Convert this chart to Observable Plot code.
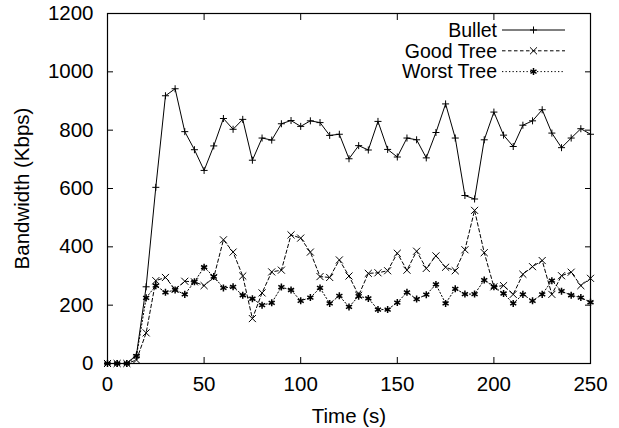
<!DOCTYPE html>
<html><head><meta charset="utf-8">
<script src="https://cdn.jsdelivr.net/npm/d3@7"></script>
<script src="https://cdn.jsdelivr.net/npm/@observablehq/plot@0.6"></script>
<style>html,body{margin:0;padding:0;background:#fff}</style>
</head><body><div id="chart"></div>
<script>
const time = [0,5,10,15,20,25,30,35,40,45,50,55,60,65,70,75,80,85,90,95,100,105,110,115,120,125,130,135,140,145,150,155,160,165,170,175,180,185,190,195,200,205,210,215,220,225,230,235,240,245,250];
const bullet = [0,0,0,30,263,604,918,942,795,733,662,746,840,803,837,697,773,766,822,833,813,832,826,782,786,702,747,732,830,734,708,773,767,705,792,890,773,576,564,767,862,783,744,817,832,870,790,740,773,805,786];
const goodTree = [0,0,0,12,105,284,295,254,282,280,267,295,424,382,300,154,242,314,320,441,430,382,298,295,355,300,234,309,311,318,378,320,385,326,369,330,318,390,525,380,263,267,237,306,332,353,237,301,313,267,292];
const worstTree = [0,0,0,25,225,267,244,252,237,280,330,298,259,263,234,222,200,208,262,252,215,226,259,206,232,194,231,223,185,185,209,244,221,236,271,206,256,238,238,286,263,240,206,237,215,237,284,248,234,226,210];
const seriesNames = ["Bullet", "Good Tree", "Worst Tree"];
const xTicks = [0,50,100,150,200,250];
const yTicks = [0,200,400,600,800,1000,1200];
const xLabel = "Time (s)";
const yLabel = "Bandwidth (Kbps)";

const rows = s => time.map((t, i) => ({t, v: s[i]}));
const bulletRows = rows(bullet), goodRows = rows(goodTree), worstRows = rows(worstTree);
const font = '"Liberation Sans", Arial, Helvetica, sans-serif';
const fmt = d => String(d);

const chart = Plot.plot({
  width: 619, height: 428,
  marginLeft: 107, marginRight: 29, marginTop: 13, marginBottom: 65,
  style: {fontFamily: font, fontSize: "20.5px", color: "#000", background: "#fff", overflow: "visible"},
  x: {domain: [0, 250], label: null},
  y: {domain: [0, 1200], label: null},
  marks: [
    Plot.axisY(yTicks, {anchor: "left", tickSize: 0, tickPadding: 14, tickFormat: fmt, label: yLabel, labelAnchor: "center", labelArrow: "none", labelOffset: 93}),
    Plot.axisY(yTicks, {anchor: "left", tickSize: 6, dx: 6, text: null, label: null}),
    Plot.axisY(yTicks, {anchor: "right", tickSize: 6, dx: -6, text: null, label: null}),
    Plot.axisX(xTicks, {anchor: "bottom", tickSize: 0, tickPadding: 13, tickFormat: fmt, label: xLabel, labelAnchor: "center", labelArrow: "none", labelOffset: 59}),
    Plot.axisX(xTicks, {anchor: "bottom", tickSize: 6, dy: -6, text: null, label: null}),
    Plot.axisX(xTicks, {anchor: "top", tickSize: 6, dy: 6, text: null, label: null}),
    Plot.line(worstRows, {x: "t", y: "v", stroke: "#000", strokeWidth: 1, strokeDasharray: "1.3,2.2"}),
    Plot.dot(worstRows, {x: "t", y: "v", symbol: "asterisk", r: 3.3, stroke: "#000", strokeWidth: 1.5}),
    Plot.line(goodRows, {x: "t", y: "v", stroke: "#000", strokeWidth: 1, strokeDasharray: "3.5,2.5"}),
    Plot.dot(goodRows, {x: "t", y: "v", symbol: "times", r: 3.3, stroke: "#000", strokeWidth: 1}),
    Plot.line(bulletRows, {x: "t", y: "v", stroke: "#000", strokeWidth: 1}),
    Plot.dot(bulletRows, {x: "t", y: "v", symbol: "plus", r: 2.4, stroke: "#000", strokeWidth: 1}),
    Plot.frame({stroke: "#000", strokeWidth: 1.2})
  ]
});
document.getElementById("chart").appendChild(chart);

// Legend (top-right, inside the frame), gnuplot style
const svg = d3.select(chart);
const dashes = [null, "3.5,2.5", "1.3,2.2"];
const symbols = [d3.symbolPlus, d3.symbolTimes, d3.symbolAsterisk];
const symSizes = [18, 34, 34];
const lg = svg.append("g").attr("font-family", font).attr("font-size", 19.5);
seriesNames.forEach((name, i) => {
  const yy = 30 + i * 20.8;
  lg.append("text").attr("x", 497).attr("y", yy).attr("dy", "0.35em").attr("text-anchor", "end").attr("fill", "#000").text(name);
  lg.append("line").attr("x1", 502).attr("x2", 565).attr("y1", yy).attr("y2", yy)
    .attr("stroke", "#000").attr("stroke-width", 1).attr("stroke-dasharray", dashes[i]);
  lg.append("path").attr("d", d3.symbol(symbols[i], symSizes[i])()).attr("transform", `translate(533.5,${yy})`)
    .attr("fill", "none").attr("stroke", "#000").attr("stroke-width", i === 2 ? 1.5 : 1);
});
</script>
</body></html>
